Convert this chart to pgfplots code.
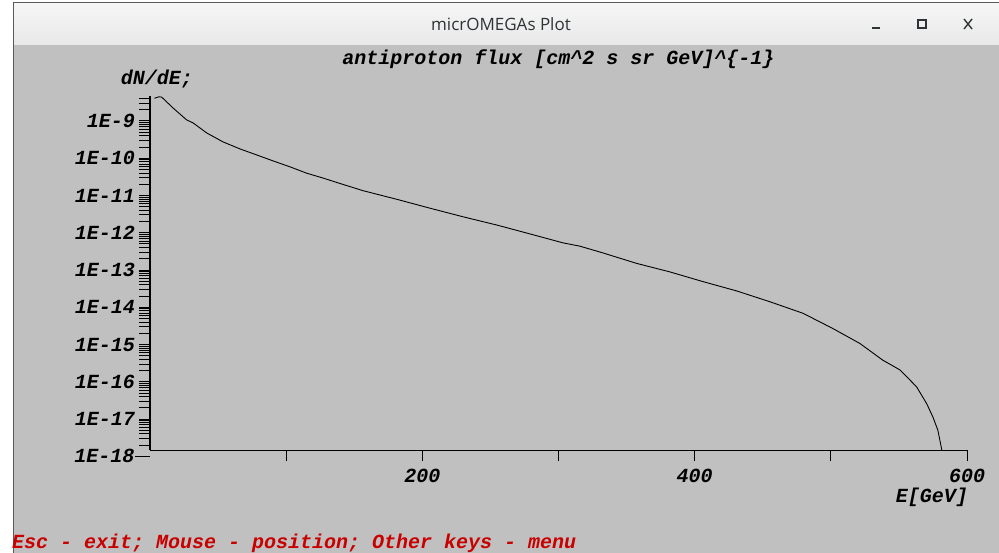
\documentclass[border=0pt]{standalone}
\usepackage{pgfplots}
\pgfplotsset{compat=1.18}
\usepackage{fontspec}
\setmainfont{Liberation Mono}
\newfontfamily\barfont{Open Sans}
\newcommand{\mf}{\fontsize{20bp}{22bp}\selectfont\bfseries\itshape}
\definecolor{bggray}{RGB}{192,192,192}
\definecolor{barA}{RGB}{246,246,246}
\definecolor{barB}{RGB}{232,232,232}
\definecolor{bartext}{RGB}{46,52,54}
\definecolor{msgred}{RGB}{200,0,0}
\begin{document}
\begin{tikzpicture}
\useasboundingbox (0,0) rectangle (999bp,553bp);
\fill[white] (0,0) rectangle (999bp,553bp);
\fill[bggray] (13bp,0) rectangle (999bp,508bp);
\shade[top color=barA, bottom color=barB] (13bp,508bp) rectangle (999bp,550bp);
\draw[gray!70!black, line width=1bp] (13.5bp,0) -- (13.5bp,550bp) -- (999bp,550bp);
\node[font=\barfont\fontsize{17bp}{19bp}\selectfont, text=bartext] at (501bp,529bp) {micrOMEGAs Plot};
\draw[bartext, line width=1.6bp] (872bp,525bp) -- (880bp,525bp);
\draw[bartext, line width=1.6bp] (918bp,525bp) rectangle (926bp,533bp);
\draw[bartext, line width=1.4bp] (964bp,524bp) -- (972bp,534bp) (964bp,534bp) -- (972bp,524bp);
\node[anchor=west, text=msgred, font=\mf, inner sep=0pt] at (12bp,10bp) {Esc - exit; Mouse - position; Other keys - menu};
\begin{axis}[
  at={(150bp,102.7bp)}, anchor=south west,
  scale only axis, width=817bp, height=354bp,
  xmin=0, xmax=600,
  ymode=log, ymin=1.45e-18, ymax=4.6e-9,
  axis x line*=bottom, axis y line*=left,
  axis line style={line width=1.2bp, black, -},
  clip=false,
  tick align=outside,
  major tick length=11bp, minor tick length=11bp,
  tick style={line width=1bp, black},
  xtick={100,200,300,400,500,600},
  xticklabels={,200,,400,,600},
  ytick={1e-17,1e-16,1e-15,1e-14,1e-13,1e-12,1e-11,1e-10,1e-9},
  yticklabels={1E-17,1E-16,1E-15,1E-14,1E-13,1E-12,1E-11,1E-10,1E-9},
  minor ytick={2e-18,3e-18,4e-18,5e-18,6e-18,7e-18,8e-18,9e-18,
    2e-17,3e-17,4e-17,5e-17,6e-17,7e-17,8e-17,9e-17,
    2e-16,3e-16,4e-16,5e-16,6e-16,7e-16,8e-16,9e-16,
    2e-15,3e-15,4e-15,5e-15,6e-15,7e-15,8e-15,9e-15,
    2e-14,3e-14,4e-14,5e-14,6e-14,7e-14,8e-14,9e-14,
    2e-13,3e-13,4e-13,5e-13,6e-13,7e-13,8e-13,9e-13,
    2e-12,3e-12,4e-12,5e-12,6e-12,7e-12,8e-12,9e-12,
    2e-11,3e-11,4e-11,5e-11,6e-11,7e-11,8e-11,9e-11,
    2e-10,3e-10,4e-10,5e-10,6e-10,7e-10,8e-10,9e-10,
    2e-9,3e-9,4e-9},
  ticklabel style={font=\mf, inner sep=0pt},
  xticklabel style={anchor=north, yshift=-8bp},
  yticklabel style={anchor=east, xshift=-4bp},
]
\addplot[black, line width=0.9bp] coordinates {
(3.2,4.07e-9) (6.6,4.47e-9) (8.6,4.37e-9) (16.9,2.24e-9) (26.9,1.07e-9)
(31.6,8.91e-10) (41.6,4.79e-10) (53.6,2.75e-10) (66.1,1.78e-10) (78.3,1.23e-10)
(90.3,8.51e-11) (102.8,5.89e-11) (115.0,3.98e-11) (127.0,2.95e-11) (138.0,2.19e-11)
(156.4,1.35e-11) (181.1,7.94e-12) (205.6,4.57e-12) (229.8,2.69e-12) (254.5,1.62e-12)
(279.0,9.33e-13) (303.2,5.37e-13) (315.7,4.37e-13) (332.6,2.88e-13) (357.3,1.51e-13)
(381.8,8.91e-14) (406.0,4.90e-14) (430.8,2.75e-14) (455.2,1.41e-14) (479.5,6.92e-15)
(491.9,4.07e-15) (501.5,2.69e-15) (521.3,1.07e-15) (538.2,3.80e-16) (550.7,2.09e-16)
(562.9,7.41e-17) (570.3,2.63e-17) (574.9,1.15e-17) (578.6,5.01e-18) (581.3,1.62e-18)
(581.5,1.45e-18)
};
\draw[line width=1bp] (rel axis cs:0,-0.017) -- ([xshift=-15bp]rel axis cs:0,-0.017) node[anchor=east, font=\mf, inner sep=0pt] {1E-18};
\node[font=\mf, inner sep=0pt] at ([xshift=7bp, yshift=17bp]rel axis cs:0,1) {dN/dE;};
\node[font=\mf, inner sep=0pt] at ([yshift=37bp]rel axis cs:0.5,1) {antiproton flux [cm\^{}2 s sr GeV]\^{}\{-1\}};
\node[font=\mf, inner sep=0pt, anchor=east] at ([xshift=1bp, yshift=-47bp]rel axis cs:1,0) {E[GeV]};
\end{axis}
\end{tikzpicture}
\end{document}
